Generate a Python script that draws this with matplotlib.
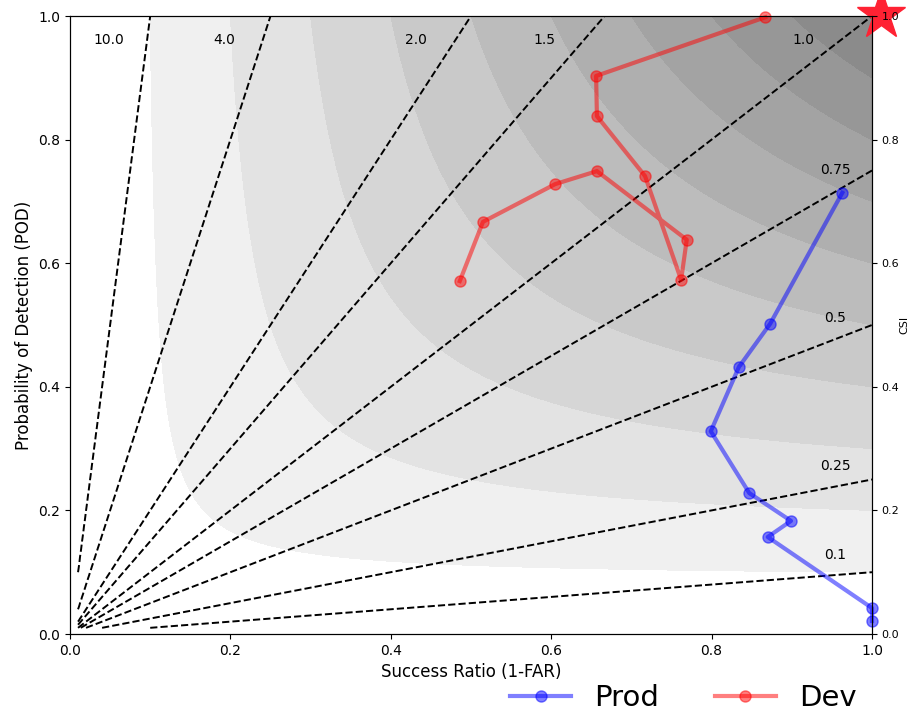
import numpy as np
import matplotlib
matplotlib.use("Agg")
import matplotlib.pyplot as plt
import matplotlib.transforms as mtransforms

# ---- data ----
prod_sr = [0.963, 0.873, 0.834, 0.799, 0.847, 0.899, 0.870, 1.0, 1.0]
prod_pod = [0.714, 0.502, 0.432, 0.328, 0.228, 0.183, 0.157, 0.042, 0.021]

dev_sr = [0.486, 0.515, 0.605, 0.657, 0.769, 0.762, 0.717, 0.657, 0.656, 0.867]
dev_pod = [0.571, 0.667, 0.728, 0.749, 0.638, 0.573, 0.741, 0.838, 0.903, 0.998]

bias_levels = [0.1, 0.25, 0.5, 0.75, 1.0, 1.5, 2.0, 4.0, 10.0]
bias_labels = ["0.1", "0.25", "0.5", "0.75", "1.0", "1.5", "2.0", "4.0", "10.0"]
csi_levels = [0.1, 0.2, 0.3, 0.4, 0.5, 0.6, 0.7, 0.8, 0.9, 1.0]
csi_colors = ["#f0f0f0", "#e3e3e3", "#d6d6d6", "#c9c9c9", "#bcbcbc",
              "#afafaf", "#a3a3a3", "#979797", "#8b8b8b"]

# label positions (SR, POD)
label_pos = {
    "10.0": (0.048, 0.961), "4.0": (0.192, 0.961), "2.0": (0.431, 0.961),
    "1.5": (0.592, 0.961), "1.0": (0.914, 0.961), "0.75": (0.954, 0.751),
    "0.5": (0.954, 0.511), "0.25": (0.954, 0.272), "0.1": (0.954, 0.128),
}

fig = plt.figure(figsize=(9.1, 7.21), dpi=100)
ax = fig.add_axes([70/910, 1-634/721, 802/910, 618/721])

sr = np.linspace(0.01, 1, 400)
pod = np.linspace(0.01, 1, 400)
SR, POD = np.meshgrid(sr, pod)
CSI = 1.0 / (1.0/SR + 1.0/POD - 1.0)
BIAS = POD / SR

ax.contourf(SR, POD, CSI, levels=csi_levels, colors=csi_colors, zorder=0)
ax.contour(SR, POD, BIAS, levels=bias_levels, colors="k",
           linestyles="--", linewidths=1.4, zorder=1)

for lab in bias_labels:
    x, y = label_pos[lab]
    ax.text(x, y, lab, fontsize=10, ha="center", va="center", zorder=2)

ax.plot(prod_sr, prod_pod, "-o", color="blue", alpha=0.5, lw=3, ms=8,
        label="Prod", zorder=4, clip_on=False)
ax.plot(dev_sr, dev_pod, "-o", color="red", alpha=0.5, lw=3, ms=8,
        label="Dev", zorder=4, clip_on=False)

star_tr = ax.transData + mtransforms.ScaledTranslation(9/100, 1/100, fig.dpi_scale_trans)
ax.plot([1.0], [1.0], marker="*", color="#ff2233", ms=37, clip_on=False,
        zorder=10, ls="none", transform=star_tr)

ax.set_xlim(0, 1)
ax.set_ylim(0, 1)
ax.set_xlabel("Success Ratio (1-FAR)", fontsize=12)
ax.set_ylabel("Probability of Detection (POD)", fontsize=12)
ax.tick_params(labelsize=10)

ax2 = ax.twinx()
ax2.set_ylim(0, 1)
ax2.set_yticks([0, 0.2, 0.4, 0.6, 0.8, 1.0])
ax2.tick_params(labelsize=8)
ax2.set_ylabel("CSI", fontsize=8, labelpad=0)

ax.legend(loc="upper center", bbox_to_anchor=(0.765, -0.048), ncol=2,
          frameon=False, fontsize=21, handlelength=2.1, columnspacing=1.9,
          borderpad=0.2)

fig.savefig("out.png", dpi=100)
